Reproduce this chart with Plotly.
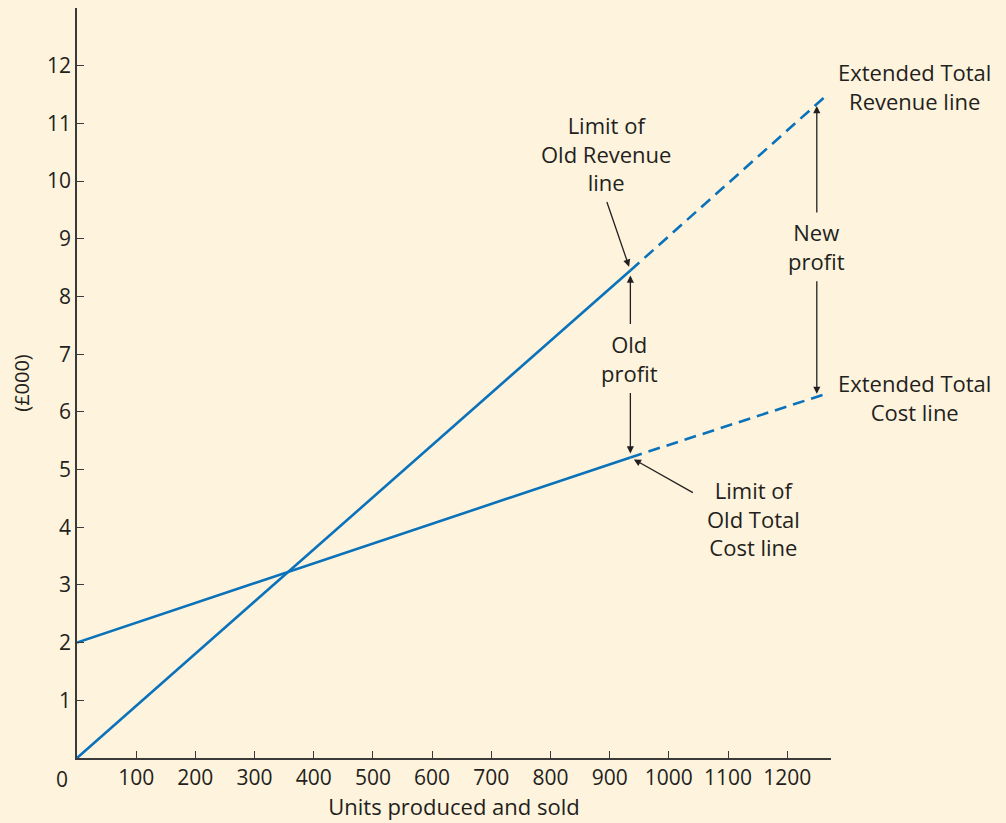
import plotly.graph_objects as go

# break-even chart: old lines (solid) and extended lines (dashed)
units_old = [0, 935]
revenue_old = [0, 8.45]
cost_old = [2, 5.21]

units_ext = [935, 1268]
revenue_ext = [8.45, 11.5]
cost_ext = [5.21, 6.32]

x_ticks = [100, 200, 300, 400, 500, 600, 700, 800, 900, 1000, 1100, 1200]
y_ticks = [1, 2, 3, 4, 5, 6, 7, 8, 9, 10, 11, 12]

BLUE = "#0A72BA"
BG = "#FEF3DC"
INK = "#231F20"
FONT = "Open Sans"

fig = go.Figure()

fig.add_trace(go.Scatter(x=units_old, y=revenue_old, mode="lines",
                         line=dict(color=BLUE, width=2.6), name="Revenue"))
fig.add_trace(go.Scatter(x=units_old, y=cost_old, mode="lines",
                         line=dict(color=BLUE, width=2.6), name="Total cost"))
fig.add_trace(go.Scatter(x=units_ext, y=revenue_ext, mode="lines",
                         line=dict(color=BLUE, width=2.6, dash="12px,7px"),
                         name="Extended revenue"))
fig.add_trace(go.Scatter(x=units_ext, y=cost_ext, mode="lines",
                         line=dict(color=BLUE, width=2.6, dash="12px,7px"),
                         name="Extended cost"))

# value of each extended line at the "new profit" arrow position
x_new = 1250
rev_new = revenue_ext[0] + (revenue_ext[1] - revenue_ext[0]) * (x_new - units_ext[0]) / (units_ext[1] - units_ext[0])
cost_new = cost_ext[0] + (cost_ext[1] - cost_ext[0]) * (x_new - units_ext[0]) / (units_ext[1] - units_ext[0])

arrow = dict(showarrow=True, arrowhead=2, arrowsize=1.1, arrowwidth=1.3,
             arrowcolor=INK, text="", xref="x", yref="y", axref="pixel", ayref="pixel")

arrows = [
    dict(x=units_old[1], y=revenue_old[1], ax=-24, ay=-70, standoff=4),
    dict(x=units_old[1], y=revenue_old[1], ax=0, ay=55, standoff=5),
    dict(x=units_old[1], y=cost_old[1], ax=0, ay=-66, standoff=4),
    dict(x=units_old[1], y=cost_old[1], ax=64, ay=36, standoff=4),
    dict(x=x_new, y=rev_new, ax=0, ay=110, standoff=2),
    dict(x=x_new, y=cost_new, ax=0, ay=-117, standoff=3),
]
for a in arrows:
    fig.add_annotation(**arrow, **a)

labels = [
    ("x", 893, 10.48, "Limit of<br>Old Revenue<br>line"),
    ("x", 934, 6.92, "Old<br>profit"),
    ("x", 1250, 8.87, "New<br>profit"),
    ("paper", 1.111, 11.64, "Extended Total<br>Revenue line"),
    ("paper", 1.111, 6.25, "Extended Total<br>Cost line"),
    ("x", 1143, 4.15, "Limit of<br>Old Total<br>Cost line"),
]
for xr, lx, ly, txt in labels:
    fig.add_annotation(x=lx, y=ly, text=txt, showarrow=False, xref=xr, yref="y",
                       xanchor="center", yanchor="middle",
                       font=dict(family=FONT, size=22, color=INK), align="center")

# shared origin label
fig.add_annotation(x=0, y=0, xref="paper", yref="paper", text="0", showarrow=False,
                   xanchor="center", yanchor="top", xshift=-15, yshift=-5,
                   font=dict(family=FONT, size=21, color=INK))

# page body has an 8px margin, so the figure is a little smaller than the window
fig.update_layout(
    width=998, height=815,
    paper_bgcolor=BG, plot_bgcolor=BG,
    margin=dict(l=69, r=175, t=0, b=65),
    showlegend=False,
    font=dict(family=FONT, size=21, color=INK),
)
fig.update_xaxes(range=[0, 1274], tickvals=x_ticks, ticks="inside", ticklen=7,
                 tickcolor="#3A3A3A", tickwidth=1.3, automargin=False,
                 showline=True, linecolor="#3A3A3A", linewidth=1.5,
                 showgrid=False, zeroline=False,
                 tickfont=dict(family=FONT, size=21, color=INK),
                 title=dict(text="Units produced and sold", standoff=10,
                            font=dict(family=FONT, size=22, color=INK)))
fig.update_yaxes(range=[0, 13], tickvals=y_ticks, ticks="inside", ticklen=7,
                 tickcolor="#3A3A3A", tickwidth=1.3, automargin=False,
                 showline=True, linecolor="#3A3A3A", linewidth=1.5,
                 showgrid=False, zeroline=False,
                 tickfont=dict(family=FONT, size=21, color=INK),
                 title=dict(text="(£000)", standoff=16,
                            font=dict(family=FONT, size=20, color=INK)))

fig.write_html("out.html", post_script=f"document.body.style.background='{BG}';")
